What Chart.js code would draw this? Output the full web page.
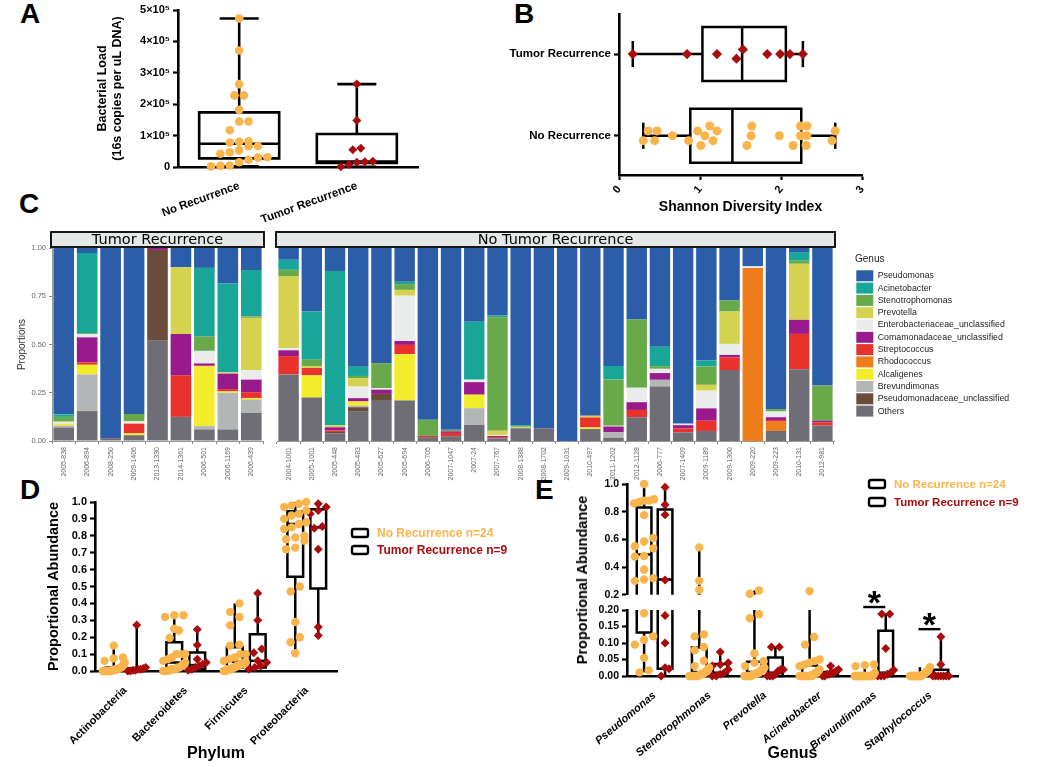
<!DOCTYPE html>
<html>
<head>
<meta charset="utf-8">
<title>Bacterial load and microbiome composition</title>
<script src="https://cdn.jsdelivr.net/npm/chart.js@4.4.1/dist/chart.umd.min.js"></script>
<style>
body{margin:0;width:1050px;height:767px;position:relative;overflow:hidden;background:#fff}
canvas{position:absolute}
.tag{position:absolute;font:bold 28px "Liberation Sans",Arial,sans-serif;line-height:28px}
.ytitle{position:absolute;font:bold 14.5px "Liberation Sans",Arial,sans-serif;white-space:nowrap;transform:translate(-50%,-50%) rotate(-90deg)}
</style>
</head>
<body>
<div class="tag" style="left:20px;top:0">A</div>
<div class="tag" style="left:514px;top:0">B</div>
<div class="tag" style="left:19px;top:190px">C</div>
<div class="tag" style="left:20px;top:476px">D</div>
<div class="tag" style="left:535px;top:476px">E</div>

<canvas id="chartA" width="430" height="222" style="left:0;top:0"></canvas>
<canvas id="chartB" width="520" height="222" style="left:360px;top:0"></canvas>
<canvas id="chartC1" width="270" height="262" style="left:0;top:222px"></canvas>
<canvas id="chartC2" width="780" height="262" style="left:270px;top:222px"></canvas>
<canvas id="chartD" width="520" height="297" style="left:0;top:470px"></canvas>
<canvas id="chartE2" width="520" height="207" style="left:530px;top:560px"></canvas>
<canvas id="chartE1" width="520" height="134" style="left:530px;top:470px"></canvas>
<div class="ytitle" style="left:582px;top:580px">Proportional Abundance</div>

<script>
/* Groups */
const groups=["No Recurrence","Tumor Recurrence"];
const legendTexts=["No Recurrence n=24","Tumor Recurrence n=9"];

/* A: bacterial load */
const loadNoRec=[473000,371000,264000,228000,228000,182000,145000,145000,117000,82000,80000,78000,67000,66000,53000,47000,42000,31000,30000,23000,15000,5000,4000,2000];
const loadTumor=[264000,148000,60000,55000,18000,17000,15000,8000,1000];
const loadBoxNoRec=[2000,27500,74000,174000,473000];
const loadBoxTumor=[1000,13000,17000,105000,264000];
const loadTickLabels=["0","1×10⁵","2×10⁵","3×10⁵","4×10⁵","5×10⁵"];

/* B: Shannon diversity */
const shannonNoRec=[0.30,0.36,0.44,0.47,0.66,0.86,0.97,1.01,1.06,1.12,1.16,1.21,1.58,1.63,1.64,1.98,2.15,2.24,2.24,2.31,2.32,2.32,2.63,2.67];
const shannonTumor=[0.17,0.84,1.21,1.45,1.53,1.83,1.99,2.11,2.27];
const shannonBoxNoRec=[0.30,0.88,1.40,2.25,2.67];
const shannonBoxTumor=[0.17,1.03,1.52,2.06,2.27];

/* C: genus proportions (9 tumor samples, then 24 no tumor samples) */
const tumorSamples=["2005-838","2006-894","2008-250","2009-1406","2013-1330","2014-1361","2006-501","2006-1169","2006-439"];
const noTumorSamples=["2004-1001","2005-1001","2005-448","2005-483","2005-627","2005-694","2006-705","2007-1047","2007-24","2007-767","2008-1388","2008-1702","2009-1031","2010-497","2011-1202","2012-1128","2006-777","2007-1409","2009-1189","2009-1300","2009-220","2009-223","2010-131","2012-981"];
const genusNames=["Pseudomonas","Acinetobacter","Stenotrophomonas","Prevotella","Enterobacteriaceae_unclassified","Comamonadaceae_unclassified","Streptococcus","Rhodococcus","Alcaligenes","Brevundimonas","Pseudomonadaceae_unclassified","Others"];
const genusColors=["#2b5da8","#17a698","#68a94a","#d5d24f","#e9ecea","#981a8c","#e8322b","#ef7d1c","#f3ec2b","#b3b6b6","#6b4c3a","#6f6d75"];
const pseudomonas=[0.862,0.026,0.985,0.86,0,0.1,0.103,0.184,0.114, 0.061,0.329,0.119,0.615,0.598,0.175,0.89,0.942,0.382,0.35,0.918,0.934,1.0,0.869,0.611,0.371,0.512,0.91,0.583,0.272,0.095,0.835,0.021,0.713];
const acinetobacter=[0.013,0.415,0,0,0,0,0.355,0.46,0.24, 0.052,0.25,0.8,0.048,0,0.012,0,0,0.3,0.009,0.008,0,0,0,0.07,0,0.1,0,0.031,0,0,0,0.045,0];
const stenotrophomonas=[0.025,0.005,0,0.038,0,0,0.075,0,0.008, 0.035,0.035,0,0.012,0.128,0.03,0.083,0.008,0,0.588,0,0,0,0,0.24,0.353,0.014,0,0.095,0.057,0,0.012,0.016,0.182];
const prevotella=[0,0,0,0,0,0.345,0,0.007,0.27, 0.37,0.008,0.01,0.043,0,0.03,0,0,0,0.022,0.008,0,0,0.009,0,0,0,0,0.03,0.168,0,0,0.29,0];
const enterobacteriaceae=[0.01,0.017,0,0.012,0,0,0.065,0,0.05, 0.012,0,0,0.06,0.008,0.235,0,0,0.013,0.005,0,0,0,0,0.004,0.075,0.022,0.008,0.092,0.057,0.009,0.03,0,0];
const comamonadaceae=[0,0.13,0,0,0.01,0.215,0.012,0.08,0.065, 0.03,0,0.017,0.017,0.022,0.02,0,0.008,0.065,0.006,0,0,0,0,0.03,0.04,0.035,0.017,0.064,0.012,0,0.014,0.073,0.009];
const streptococcus=[0,0.012,0,0.05,0,0.215,0.003,0.012,0.03, 0.095,0.038,0.007,0,0,0.048,0.007,0.017,0,0.006,0,0,0,0.052,0,0.038,0,0.02,0.053,0.066,0,0.009,0.183,0.016];
const rhodococcus=[0,0,0,0,0,0,0,0,0, 0,0,0,0,0,0,0,0,0,0,0,0,0,0,0,0,0,0,0,0,0.896,0.048,0,0];
const alcaligenes=[0.01,0.05,0,0.01,0,0,0.31,0.007,0.008, 0,0.115,0,0.022,0,0.24,0,0,0.07,0,0,0,0,0.008,0,0,0,0,0,0,0,0,0,0];
const brevundimonas=[0.01,0.19,0,0,0,0,0.017,0.19,0.07, 0,0,0,0.008,0,0,0,0,0.087,0,0,0,0,0,0.028,0,0.035,0,0,0,0,0,0,0];
const pseudomonadaceae=[0,0,0,0,0.47,0,0,0,0, 0,0,0.007,0.02,0.036,0,0,0,0,0,0,0,0,0,0,0,0,0,0,0,0,0,0,0];
const others=[0.07,0.155,0.015,0.03,0.52,0.125,0.06,0.06,0.145, 0.345,0.225,0.04,0.155,0.208,0.21,0.02,0.025,0.083,0.014,0.066,0.066,0,0.062,0.017,0.123,0.282,0.045,0.052,0.368,0,0.052,0.372,0.08];
const genusSeries=[pseudomonas,acinetobacter,stenotrophomonas,prevotella,enterobacteriaceae,comamonadaceae,streptococcus,rhodococcus,alcaligenes,brevundimonas,pseudomonadaceae,others];

/* D: phylum abundance */
const phyla=["Actinobacteria","Bacteroidetes","Firmicutes","Proteobacteria"];
const actinoNoRec=[0.15,0.08,0.075,0.06,0.05,0.04,0.03,0.02,0.02,0.015,0.01,0.01,0.01,0.005,0.005,0.005,0,0,0,0,0,0,0,0];
const actinoTumor=[0.272,0.02,0.015,0.01,0.01,0.005,0.005,0,0];
const bacteroNoRec=[0.33,0.33,0.32,0.25,0.24,0.195,0.1,0.1,0.1,0.08,0.07,0.06,0.05,0.04,0.03,0.02,0.02,0.01,0.01,0.01,0.005,0,0,0];
const bacteroTumor=[0.245,0.154,0.07,0.05,0.04,0.03,0.02,0.01,0.005];
const firmNoRec=[0.40,0.35,0.32,0.27,0.155,0.15,0.1,0.1,0.08,0.07,0.06,0.05,0.05,0.04,0.04,0.03,0.03,0.02,0.02,0.01,0.01,0.01,0,0];
const firmTumor=[0.46,0.30,0.13,0.108,0.06,0.05,0.03,0.02,0.01];
const proteoNoRec=[1.0,0.99,0.98,0.97,0.95,0.93,0.92,0.9,0.88,0.87,0.85,0.84,0.8,0.79,0.78,0.77,0.73,0.72,0.50,0.47,0.29,0.2,0.17,0.105];
const proteoTumor=[0.99,0.97,0.95,0.93,0.855,0.845,0.72,0.26,0.21];
const phylumBoxNoRec=[[0,0,0.005,0.02,0.15],[0,0.005,0.05,0.17,0.33],[0,0.02,0.055,0.14,0.40],[0.105,0.557,0.87,0.945,1.0]];
const phylumBoxTumor=[[0,0,0.005,0.015,0.272],[0.005,0.01,0.035,0.11,0.245],[0.01,0.02,0.06,0.217,0.46],[0.21,0.488,0.85,0.957,0.99]];

/* E: genus abundance */
const genera=["Pseudomonas","Stenotrophmonas","Prevotella","Acinetobacter","Brevundimonas","Staphylococcus"];
const pseudoNoRec=[1.0,0.89,0.88,0.88,0.87,0.86,0.775,0.61,0.585,0.55,0.535,0.48,0.475,0.38,0.32,0.31,0.30,0.19,0.12,0.11,0.095,0.055,0.017,0.011];
const pseudoTumor=[0.977,0.85,0.778,0.306,0.183,0.10,0.025,0.022,0];
const stenoNoRec=[0.542,0.30,0.235,0.126,0.12,0.088,0.078,0.046,0.03,0.025,0.02,0.015,0.01,0.01,0.005,0.005,0.003,0,0,0,0,0,0,0];
const stenoTumor=[0.073,0.04,0.035,0.03,0.02,0.01,0.005,0,0];
const prevoNoRec=[0.23,0.207,0.187,0.175,0.068,0.045,0.04,0.03,0.025,0.02,0.02,0.015,0.01,0.01,0.008,0.005,0.005,0.003,0,0,0,0,0,0];
const prevoTumor=[0.088,0.088,0.02,0.02,0.015,0.005,0,0,0];
const acinetoNoRec=[0.226,0.118,0.095,0.05,0.045,0.04,0.035,0.03,0.02,0.015,0.01,0.01,0.005,0.005,0,0,0,0,0,0,0,0,0,0];
const acinetoTumor=[0.03,0.02,0.015,0.01,0.01,0.005,0.005,0,0];
const brevNoRec=[0.035,0.033,0.03,0.01,0.005,0,0,0,0,0,0,0,0,0,0,0,0,0,0,0,0,0,0,0];
const brevTumor=[0.188,0.188,0.083,0.018,0.01,0.005,0,0,0];
const staphNoRec=[0.027,0.022,0.018,0.015,0.012,0.01,0.008,0.005,0.005,0.003,0,0,0,0,0,0,0,0,0,0,0,0,0,0];
const staphTumor=[0.119,0.035,0,0,0,0,0,0,0];
const genusBoxNoRec=[[0.011,0.132,0.49,0.83,1.0],[0,0,0.012,0.086,0.542],[0,0,0.012,0.043,0.23],[0,0,0.005,0.032,0.226],[0,0,0,0,0.035],[0,0,0,0.003,0.027]];
const genusBoxTumor=[[0,0.022,0.31,0.815,0.977],[0,0,0.01,0.036,0.073],[0,0,0.01,0.056,0.088],[0,0,0.005,0.012,0.03],[0,0,0.01,0.137,0.188],[0,0,0,0.019,0.119]];
const sigCats=[4,5];
const sigLevels=[0.209,0.142];
const lowTicks=[0,0.05,0.10,0.15,0.20];

/* Style */
const orange="#f9b44b",darkRed="#a80c0c";
const sans='"Liberation Sans", Arial, sans-serif';
const bold=(size,style)=>({family:sans,size,weight:"bold",style:style||"normal"});
const axisLine={display:true,color:"#000",width:2.6};
const tickMarks={drawOnChartArea:false,tickLength:5,tickWidth:2.2,tickColor:"#000"};
const noTips={legend:{display:false},tooltip:{enabled:false}};
const catTicks=list=>s=>{s.ticks=list.map((c,i)=>({value:i}));};

/* Dot layout: points that are close in value share a row, centred on the group */
function rows(values,valPx,d,spread){
  const order=values.map((v,i)=>i).sort((a,b)=>values[a]-values[b]);
  const offs=[];
  let row=[];
  const flush=()=>{
    const n=row.length,s=n>1?Math.min(d,2*spread/(n-1)):0;
    row.forEach((i,j)=>{offs[i]=(j-(n-1)/2)*s;});
    row=[];
  };
  order.forEach(i=>{
    if(row.length&&valPx(values[i])-valPx(values[row[0]])>=d)flush();
    row.push(i);
  });
  flush();
  return offs;
}

function dots(values,pos,catPx,valPx,r,spread,style,color,horizontal,keep){
  const offs=rows(values,valPx,2*r+0.8,spread);
  const pts=values.map((v,i)=>horizontal?{x:v,y:pos+offs[i]/catPx}:{x:pos+offs[i]/catPx,y:v});
  return {data:keep?pts.filter(p=>keep(p.y)):pts,pointStyle:style,radius:style==="rectRot"?r+0.9:r,
    backgroundColor:color,borderWidth:0,clip:false};
}

/* Box and whisker layer */
function boxLayer(items,set){
  return {id:"boxes",beforeDatasetsDraw(chart){
    const {ctx,chartArea:a,scales}=chart;
    const V=set.horizontal?scales.x:scales.y,C=set.horizontal?scales.y:scales.x;
    const top=set.clipTop?a.top:0,bottom=set.clipBottom?a.bottom:chart.height;
    ctx.save();
    ctx.beginPath();ctx.rect(0,top,chart.width,bottom-top);ctx.clip();
    ctx.strokeStyle="#000";ctx.lineWidth=set.lineWidth;
    const line=(c1,v1,c2,v2)=>{ctx.beginPath();
      if(set.horizontal){ctx.moveTo(v1,c1);ctx.lineTo(v2,c2);}else{ctx.moveTo(c1,v1);ctx.lineTo(c2,v2);}
      ctx.stroke();};
    items.forEach(b=>{
      const [mn,q1,md,q3,mx]=b.stats;
      const p=v=>V.getPixelForValue(v),c=d=>C.getPixelForValue(b.pos+d);
      line(c(0),p(mn),c(0),p(q1));
      line(c(0),p(q3),c(0),p(mx));
      if(set.cap){line(c(-set.cap),p(mn),c(set.cap),p(mn));line(c(-set.cap),p(mx),c(set.cap),p(mx));}
      const c0=c(-set.half),c1=c(set.half),v0=p(q1),v1=p(q3);
      ctx.beginPath();
      if(set.horizontal)ctx.rect(Math.min(v0,v1),Math.min(c0,c1),Math.abs(v1-v0),Math.abs(c1-c0));
      else ctx.rect(Math.min(c0,c1),Math.min(v0,v1),Math.abs(c1-c0),Math.abs(v1-v0));
      ctx.stroke();
      line(c0,p(md),c1,p(md));
    });
    ctx.restore();
  }};
}

/* Group legend with outline boxes and coloured text */
function groupLegend(x,y,gap,size){
  return {id:"groupLegend",afterDraw(chart){
    const ctx=chart.ctx;
    ctx.save();
    legendTexts.forEach((t,i)=>{
      const yy=y+i*gap;
      ctx.lineWidth=2.4;ctx.strokeStyle="#000";
      ctx.beginPath();ctx.roundRect(x,yy-4,16,8,2);ctx.stroke();
      ctx.fillStyle=i?darkRed:orange;
      ctx.font="bold "+size+"px "+sans;ctx.textBaseline="middle";
      ctx.fillText(t,x+25,yy+0.5);
    });
    ctx.restore();
  }};
}

/* A */
const pxA=240/2.04,valA=v=>v*157/500000;
new Chart(document.getElementById("chartA"),{
  type:"scatter",
  data:{datasets:[
    dots(loadNoRec,0,pxA,valA,4.3,30,"circle",orange),
    dots(loadTumor,1,pxA,valA,3.6,22,"rectRot",darkRed)
  ]},
  options:{
    responsive:false,animation:false,events:[],
    layout:{padding:{left:95,right:12,top:10,bottom:0}},
    plugins:noTips,
    scales:{
      x:{type:"linear",min:-0.52,max:1.52,afterBuildTicks:catTicks(groups),afterFit:s=>{s.height=55;},
        ticks:{callback:v=>groups[v],minRotation:20,maxRotation:20,autoSkip:false,color:"#000",font:bold(11.5),padding:4},
        grid:{display:false},border:axisLine},
      y:{min:0,max:500000,afterFit:s=>{s.width=83;},
        ticks:{stepSize:100000,callback:(v,i)=>loadTickLabels[i],color:"#000",font:bold(11)},
        grid:tickMarks,border:axisLine,
        title:{display:true,text:["Bacterial Load","(16s copies per uL DNA)"],color:"#000",font:bold(12.5),padding:0}}
    }
  },
  plugins:[boxLayer([{pos:0,stats:loadBoxNoRec},{pos:1,stats:loadBoxTumor}],{half:0.34,cap:0.166,lineWidth:2.6})]
});

/* B */
const pxB=82,valB=v=>v*80.8;
new Chart(document.getElementById("chartB"),{
  type:"scatter",
  data:{datasets:[
    dots(shannonNoRec,0,pxB,valB,4.5,14,"circle",orange,true),
    dots(shannonTumor,1,pxB,valB,4.2,7,"rectRot",darkRed,true)
  ]},
  options:{
    responsive:false,animation:false,events:[],
    layout:{padding:{left:0,right:18,top:14,bottom:2}},
    plugins:noTips,
    scales:{
      x:{type:"linear",min:0,max:3,afterFit:s=>{s.height=45;},
        ticks:{stepSize:1,minRotation:50,maxRotation:50,color:"#000",font:bold(11)},
        grid:tickMarks,border:axisLine,
        title:{display:true,text:"Shannon Diversity Index",color:"#000",font:bold(14),padding:{top:0,bottom:4}}},
      y:{type:"linear",min:-0.48,max:1.49,afterBuildTicks:catTicks(groups),afterFit:s=>{s.width=259;},
        ticks:{callback:v=>groups[v],color:"#000",font:bold(11.5)},
        grid:tickMarks,border:axisLine}
    }
  },
  plugins:[boxLayer([{pos:0,stats:shannonBoxNoRec},{pos:1,stats:shannonBoxTumor}],{horizontal:true,half:0.33,cap:0.16,lineWidth:2.5})]
});

/* C: facets */
const stackOrder=genusNames.map((n,i)=>i).reverse();
function strip(text){
  return {id:"strip",afterDraw(chart){
    const {ctx,chartArea:c}=chart;
    ctx.save();
    ctx.fillStyle="#e4e9e6";ctx.fillRect(c.left-1,c.top-16,c.width+2,15);
    ctx.strokeStyle="#000";ctx.lineWidth=1.8;ctx.strokeRect(c.left-1,c.top-16,c.width+2,15);
    ctx.fillStyle="#000";ctx.font='14.5px "DejaVu Sans", sans-serif';
    ctx.textAlign="center";ctx.textBaseline="middle";
    ctx.fillText(text,(c.left+c.right)/2,c.top-8);
    ctx.restore();
  }};
}
const legendBox={id:"legendBox",
  beforeInit(chart){const fit=chart.legend.fit;chart.legend.fit=function(){fit.call(this);this.width=216;};},
  afterLayout(chart){chart.legend.left+=21;}};

function facet(id,labels,from,to,text,first){
  const extra=first?[strip(text)]:[strip(text),legendBox];
  const yScale={stacked:true,min:0,max:1,display:first,
    ticks:{stepSize:0.25,callback:v=>v.toFixed(2),color:"#666",font:{family:sans,size:7.5}},
    grid:{drawOnChartArea:false,tickLength:3,tickWidth:1,tickColor:"#888"},border:{color:"#999",width:1},
    title:{display:true,text:"Proportions",color:"#333",font:{family:'"Liberation Sans Narrow","Liberation Sans",sans-serif',size:10},padding:0}};
  if(first)yScale.afterFit=s=>{s.width=36;};
  return new Chart(document.getElementById(id),{
    type:"bar",
    data:{labels,datasets:stackOrder.map(i=>({label:genusNames[i],data:genusSeries[i].slice(from,to),
      backgroundColor:genusColors[i],borderWidth:0,barPercentage:0.88,categoryPercentage:1}))},
    options:{
      responsive:false,animation:false,events:[],
      layout:{padding:first?{left:16,right:7,top:26,bottom:0}:{left:7,right:0,top:26,bottom:0}},
      plugins:{tooltip:{enabled:false},
        legend:first?{display:false}:{display:true,position:"right",align:"start",reverse:true,
          title:{display:true,text:"Genus",position:"start",color:"#222",font:{family:sans,size:10},padding:{top:6,bottom:3}},
          labels:{boxWidth:17,boxHeight:11,padding:1.3,color:"#222",font:{family:sans,size:8.8}}}},
      scales:{
        x:{stacked:true,afterFit:s=>{s.height=43;},
          ticks:{autoSkip:false,minRotation:90,maxRotation:90,color:"#666",font:{family:sans,size:7}},
          grid:{drawOnChartArea:false,tickLength:3,tickWidth:1,tickColor:"#888"},border:{color:"#999",width:1}},
        y:yScale
      }
    },
    plugins:extra
  });
}
facet("chartC1",tumorSamples,0,9,"Tumor Recurrence",true);
facet("chartC2",noTumorSamples,9,33,"No Tumor Recurrence",false);

/* D */
const pxD=242/4,valD=v=>v*169;
const phylumNoRec=[actinoNoRec,bacteroNoRec,firmNoRec,proteoNoRec];
const phylumTumor=[actinoTumor,bacteroTumor,firmTumor,proteoTumor];
const dSets=[],dBoxes=[];
phyla.forEach((p,i)=>{
  dSets.push(dots(phylumNoRec[i],i-0.19,pxD,valD,4.2,11,"circle",orange));
  dSets.push(dots(phylumTumor[i],i+0.19,pxD,valD,3.6,9,"rectRot",darkRed));
  dBoxes.push({pos:i-0.19,stats:phylumBoxNoRec[i]},{pos:i+0.19,stats:phylumBoxTumor[i]});
});
new Chart(document.getElementById("chartD"),{
  type:"scatter",
  data:{datasets:dSets},
  options:{
    responsive:false,animation:false,events:[],
    layout:{padding:{left:45,right:183,top:32,bottom:0}},
    plugins:noTips,
    scales:{
      x:{type:"linear",min:-0.5,max:3.5,afterBuildTicks:catTicks(phyla),afterFit:s=>{s.height=96;},
        ticks:{callback:v=>phyla[v],minRotation:45,maxRotation:45,autoSkip:false,color:"#000",font:bold(11),padding:5},
        grid:{display:false},border:axisLine,
        title:{display:true,text:"Phylum",color:"#000",font:bold(16),padding:{top:0,bottom:4}}},
      y:{min:0,max:1,afterFit:s=>{s.width=50;},
        ticks:{stepSize:0.1,callback:v=>v.toFixed(1),color:"#000",font:bold(11)},
        grid:tickMarks,border:axisLine,
        title:{display:true,text:"Proportional Abundance",color:"#000",font:bold(14.5),padding:0}}
    }
  },
  plugins:[boxLayer(dBoxes,{half:0.13,lineWidth:2.5}),groupLegend(352,63,17,12)]
});

/* E: broken axis, drawn as an upper and a lower chart */
const pxE=331/6,valE=v=>v<0.2?v*330:77+(v-0.2)*143.75;
const genusNoRec=[pseudoNoRec,stenoNoRec,prevoNoRec,acinetoNoRec,brevNoRec,staphNoRec];
const genusTumor=[pseudoTumor,stenoTumor,prevoTumor,acinetoTumor,brevTumor,staphTumor];
function eSets(keep){
  const out=[];
  genera.forEach((g,i)=>{
    out.push(dots(genusNoRec[i],i-0.19,pxE,valE,4.2,10,"circle",orange,false,keep));
    out.push(dots(genusTumor[i],i+0.19,pxE,valE,3.6,8,"rectRot",darkRed,false,keep));
  });
  return out;
}
const eBoxes=[];
genera.forEach((g,i)=>{eBoxes.push({pos:i-0.19,stats:genusBoxNoRec[i]},{pos:i+0.19,stats:genusBoxTumor[i]});});

const stars={id:"stars",afterDraw(chart){
  const {ctx,scales:{x,y}}=chart;
  ctx.save();
  sigCats.forEach((c,i)=>{
    const px=x.getPixelForValue(c),py=y.getPixelForValue(sigLevels[i]);
    ctx.strokeStyle="#000";ctx.lineWidth=2.4;
    ctx.beginPath();ctx.moveTo(px-12,py);ctx.lineTo(px+10,py);ctx.stroke();
    ctx.font="bold 34px "+sans;ctx.fillStyle="#000";ctx.textAlign="center";ctx.textBaseline="alphabetic";
    const m=ctx.measureText("*");
    ctx.fillText("*",px-1,py-10+(m.actualBoundingBoxAscent-m.actualBoundingBoxDescent)/2);
  });
  ctx.restore();
}};

new Chart(document.getElementById("chartE1"),{
  type:"scatter",
  data:{datasets:eSets(v=>v>=0.2)},
  options:{
    responsive:false,animation:false,events:[],
    layout:{padding:{left:60,right:92,top:14,bottom:5}},
    plugins:noTips,
    scales:{
      x:{type:"linear",min:-0.5,max:5.5,display:false},
      y:{min:0.2,max:1,afterFit:s=>{s.width=37;},
        ticks:{stepSize:0.2,callback:v=>v.toFixed(1),color:"#000",font:bold(10.5)},
        grid:tickMarks,border:axisLine}
    }
  },
  plugins:[boxLayer(eBoxes,{half:0.133,lineWidth:2.5,clipBottom:true}),groupLegend(339,14,18,11.5)]
});

new Chart(document.getElementById("chartE2"),{
  type:"scatter",
  data:{datasets:eSets(v=>v<0.2)},
  options:{
    responsive:false,animation:false,events:[],
    layout:{padding:{left:45,right:92,top:50,bottom:0}},
    plugins:noTips,
    scales:{
      x:{type:"linear",min:-0.5,max:5.5,afterBuildTicks:catTicks(genera),afterFit:s=>{s.height=91;},
        ticks:{callback:v=>genera[v],minRotation:40,maxRotation:40,autoSkip:false,color:"#000",font:bold(11,"italic"),padding:5},
        grid:{display:false},border:axisLine,
        title:{display:true,text:"Genus",color:"#000",font:bold(16),padding:{top:0,bottom:4}}},
      y:{min:0,max:0.2,afterBuildTicks:s=>{s.ticks=lowTicks.map(v=>({value:v}));},afterFit:s=>{s.width=52;},
        ticks:{callback:v=>v.toFixed(2),color:"#000",font:bold(10.5)},
        grid:tickMarks,border:axisLine}
    }
  },
  plugins:[boxLayer(eBoxes,{half:0.133,lineWidth:2.5,clipTop:true}),stars]
});
</script>
</body>
</html>
